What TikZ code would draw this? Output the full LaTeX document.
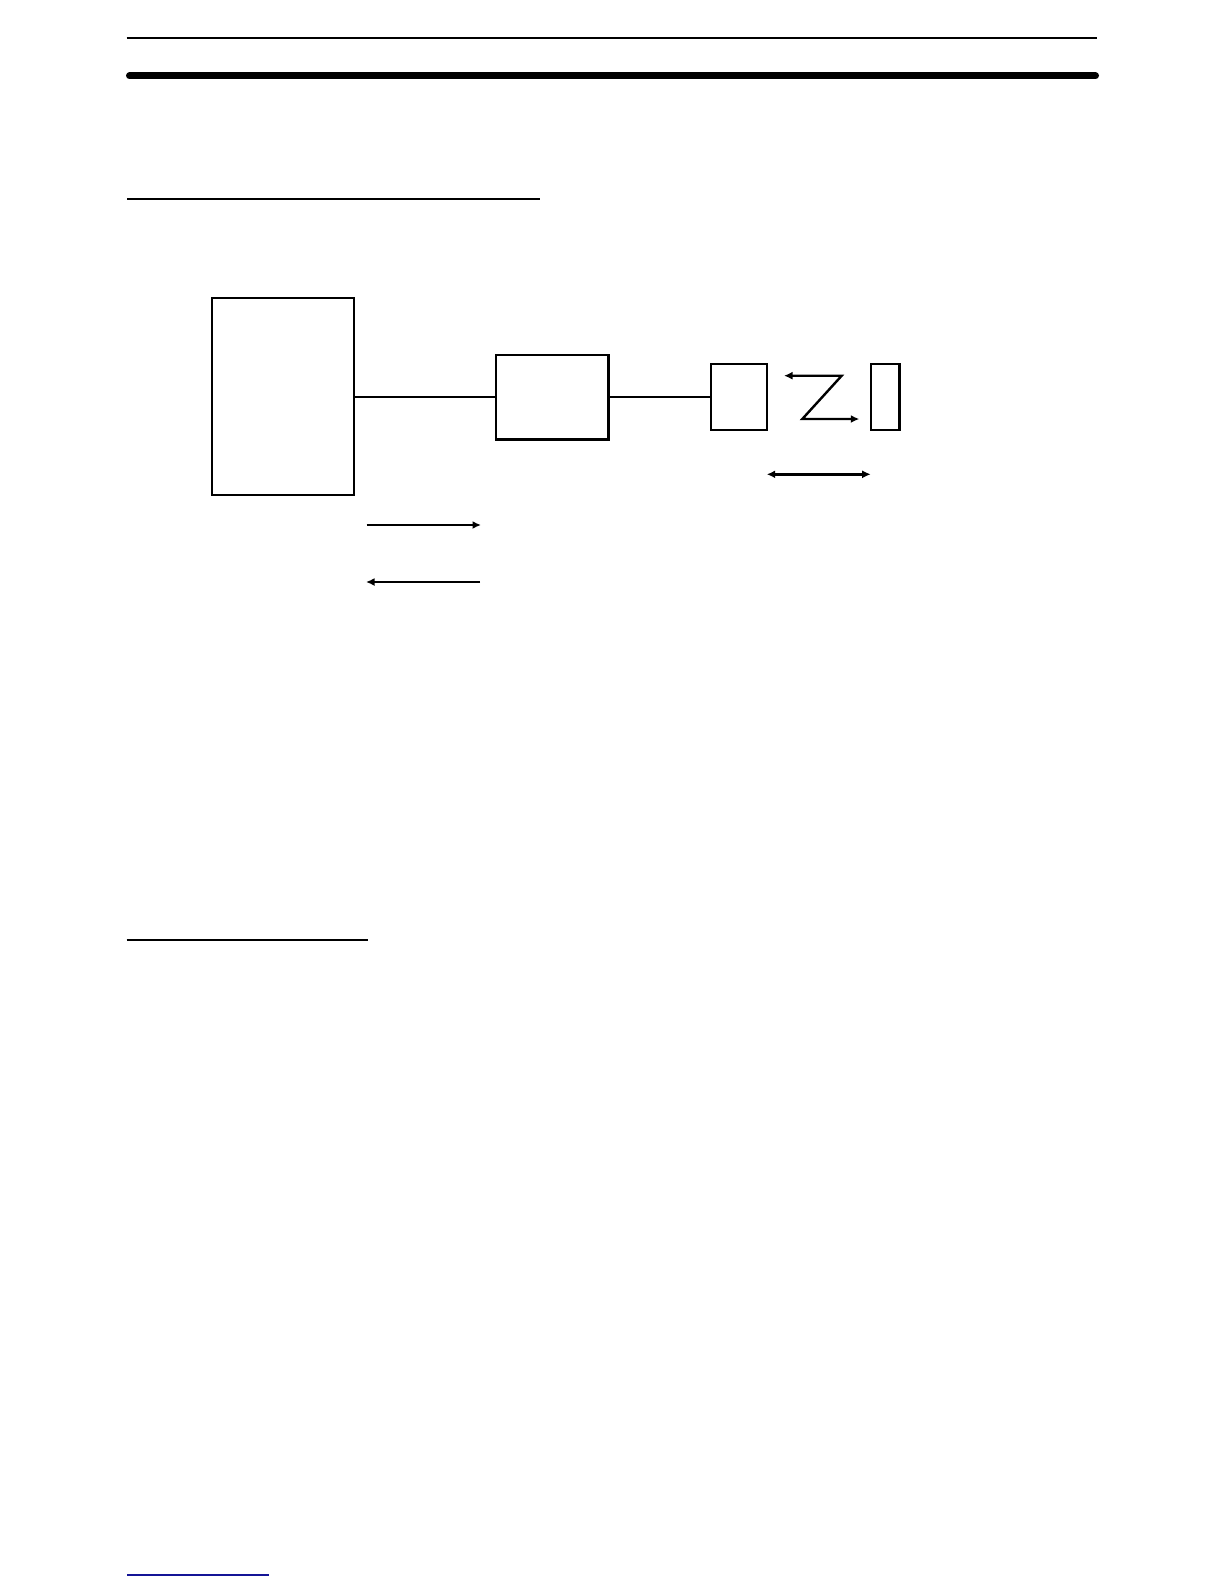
\documentclass[tikz,border=0pt]{standalone}
\usetikzlibrary{arrows.meta}
\definecolor{linkblue}{RGB}{20,20,150}
\begin{document}
\begin{tikzpicture}[x=1pt,y=-1pt,
  blk/.style={draw,line width=2.4pt,minimum width=#1,inner sep=0pt,outer sep=0pt},
  wire/.style={line width=2.4pt},
  arr/.style={line width=2.4pt,-{Latex[length=8.5pt,width=8pt]}},
  darr/.style={line width=2.4pt,{Latex[length=8.5pt,width=8pt]}-{Latex[length=8.5pt,width=8pt]}}]
\useasboundingbox[fill=white] (0,0) rectangle (1224,1584);
% page rules
\draw[line width=2.2pt] (126.5,37.7) -- (1097,37.7);
\draw[line width=7pt,line cap=round] (129.5,76) -- (1095.5,76);
\draw[line width=1.9pt] (127,199) -- (540,199);
\draw[line width=1.9pt] (126.7,940.3) -- (367.7,940.3);
\draw[line width=1.6pt,linkblue] (127,1575) -- (269,1575);
% boxes
\node[blk=141.7pt,minimum height=197pt] (big) at (282.9,396.5) {};
\node[blk=112.7pt,minimum height=84.6pt] (mid) at (552.3,397) {};
\node[blk=56pt,minimum height=66.3pt] (small) at (739,396.9) {};
\node[blk=28.3pt,minimum height=66.3pt] (thin) at (885.2,396.9) {};
\draw[wire] (big.east |- mid.west) -- (mid.west);
\draw[wire] (mid.east) -- (small.west |- mid.east);
% Z arrow
\coordinate (z1) at (784,375.7);
\coordinate (z2) at (841.7,375.7);
\coordinate (z3) at (802.3,419);
\coordinate (z4) at (859.3,419);
\draw[darr,line join=miter] (z1) -- (z2) -- (z3) -- (z4);
% double arrow
\coordinate (d1) at (766.7,474.3);
\coordinate (d2) at (870.7,474.3);
\draw[darr] (d1) -- (d2);
% direction arrows
\coordinate (r1) at (366.7,525);
\coordinate (r2) at (481,525);
\draw[arr] (r1) -- (r2);
\coordinate (l1) at (480,582);
\coordinate (l2) at (366,582);
\draw[arr] (l1) -- (l2);
\end{tikzpicture}
\end{document}
